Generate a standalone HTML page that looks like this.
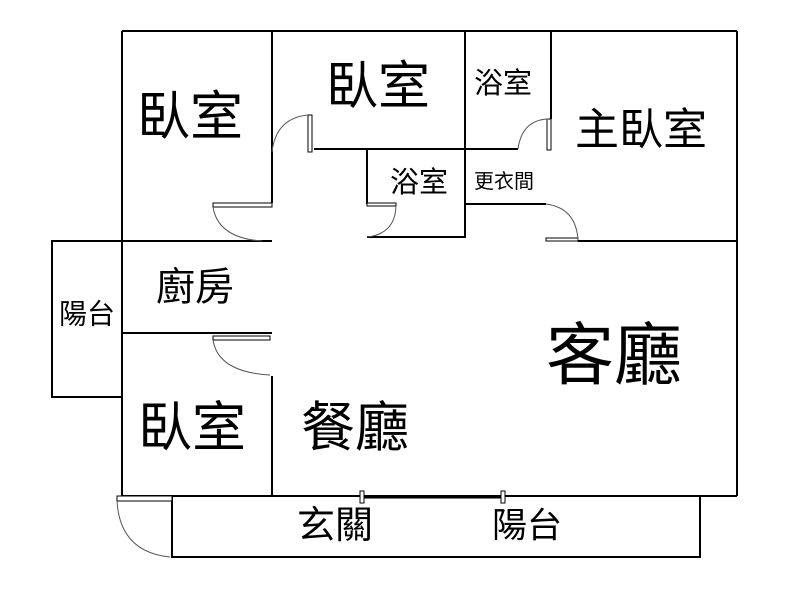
<!DOCTYPE html>
<html><head><meta charset="utf-8"><style>
html,body{margin:0;padding:0;background:#fff;width:800px;height:600px;overflow:hidden}
text{font-family:"Liberation Sans","Noto Sans CJK TC",sans-serif;fill:#000;text-anchor:middle;dominant-baseline:central}
</style></head><body>
<svg width="800" height="600" viewBox="0 0 800 600" xmlns="http://www.w3.org/2000/svg">
<g stroke="#000" stroke-width="2" fill="none">
<line x1="122" y1="31" x2="737" y2="31"/>
<line x1="122" y1="31" x2="122" y2="496"/>
<line x1="737" y1="31" x2="737" y2="496"/>
<line x1="122" y1="496" x2="737" y2="496"/>
<line x1="272" y1="31" x2="272" y2="203"/>
<line x1="52" y1="241" x2="272" y2="241"/>
<line x1="314" y1="149" x2="518" y2="149"/>
<line x1="465" y1="31" x2="465" y2="238"/>
<line x1="551" y1="31" x2="551" y2="119"/>
<line x1="367" y1="149" x2="367" y2="204"/>
<line x1="367" y1="237" x2="465" y2="237"/>
<line x1="465" y1="204" x2="546" y2="204"/>
<line x1="578" y1="241" x2="737" y2="241"/>
<rect x="52" y="241" width="70" height="156"/>
<line x1="122" y1="333" x2="272" y2="333"/>
<line x1="272" y1="376" x2="272" y2="496"/>
<rect x="172" y="496" width="528" height="61"/>
<line x1="362" y1="497" x2="503" y2="497" stroke-width="3"/>
</g>
<g stroke="#000" stroke-width="1" fill="#fff">
<rect x="213" y="203" width="59" height="4"/>
<rect x="308" y="115" width="4" height="37"/>
<rect x="547" y="119" width="4" height="31"/>
<rect x="367" y="203" width="29" height="3"/>
<rect x="546" y="238" width="32" height="3"/>
<rect x="213" y="336" width="57" height="4"/>
<rect x="117" y="496" width="55" height="5"/>
<rect x="360" y="491" width="4" height="12"/>
<rect x="501" y="491" width="4" height="12"/>
</g>
<g stroke="#555" stroke-width="1" fill="none">
<path d="M213 207 Q218 238 262 241"/>
<path d="M308 115 Q276 118 272 152"/>
<path d="M548 119 Q522 120 518 149"/>
<path d="M396 206 Q395 234 367 237"/>
<path d="M546 204 Q576 208 578 240"/>
<path d="M213 340 Q218 372 270 375"/>
<path d="M117 501 Q120 552 170 557"/>
</g>
<text x="190" y="117" font-size="53">臥室</text>
<text x="378" y="87" font-size="52">臥室</text>
<text x="503" y="84" font-size="29">浴室</text>
<text x="641" y="130" font-size="44">主臥室</text>
<text x="419" y="183" font-size="29">浴室</text>
<text x="504" y="182" font-size="20">更衣間</text>
<text x="195" y="288" font-size="39">廚房</text>
<text x="87" y="314" font-size="28">陽台</text>
<text x="614" y="356" font-size="68">客廳</text>
<text x="192" y="428" font-size="54">臥室</text>
<text x="355" y="428" font-size="54">餐廳</text>
<text x="335" y="526" font-size="38">玄關</text>
<text x="527" y="526" font-size="35">陽台</text>
</svg>
</body></html>
